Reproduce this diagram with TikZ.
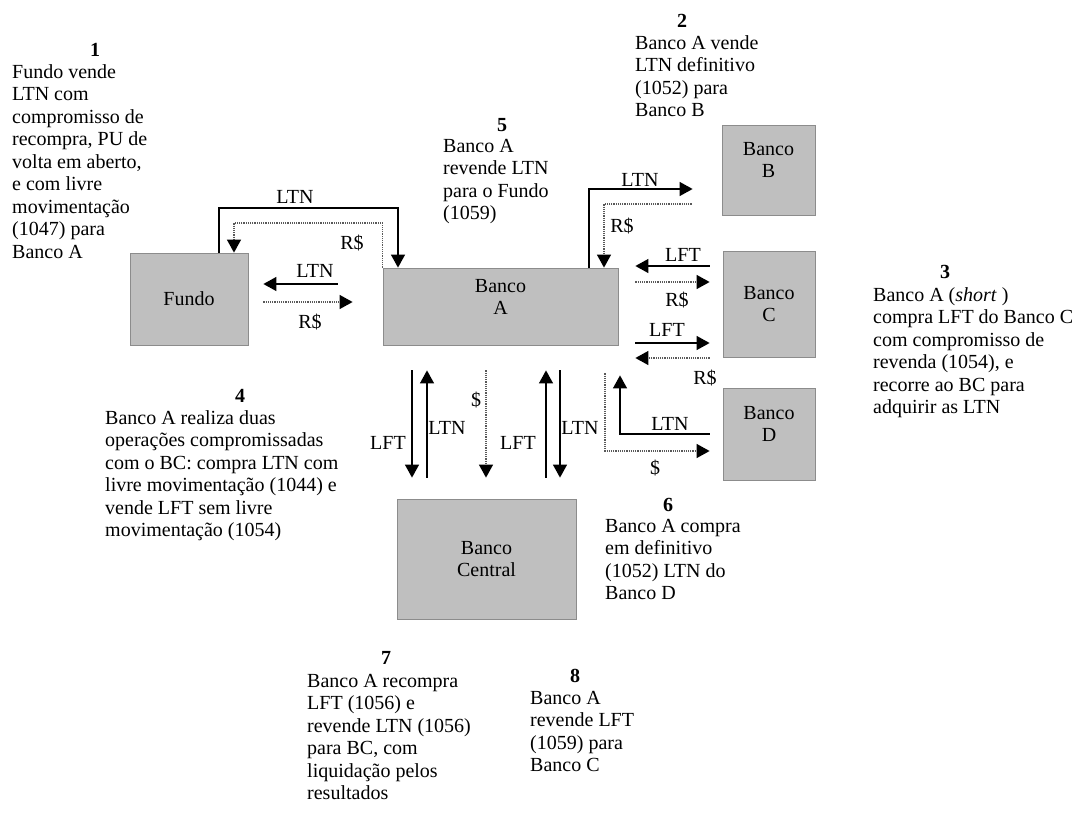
\documentclass[tikz,border=0pt]{standalone}
\usepackage{fontspec}
\setmainfont{Liberation Serif}
\usetikzlibrary{arrows.meta}
\definecolor{bankgray}{RGB}{191,191,191}

\begin{document}
\begin{tikzpicture}[x=1pt,y=-1pt,
    bank/.style={draw=black!45,fill=bankgray,line width=.8pt,align=center,inner sep=0pt,font=\fontsize{20}{22.5}\selectfont},
    flow/.style={line width=1.3pt,-{Triangle[length=13pt,width=14pt]}},
    cash/.style={line width=1.3pt,black!65,dash pattern=on 1.2pt off 1pt,-{Triangle[length=13pt,width=14pt,color=black]}},
    tag/.style={inner sep=0pt,font=\fontsize{20}{22.5}\selectfont},
    stepno/.style={inner sep=0pt,font=\bfseries\fontsize{20}{22.5}\selectfont},
    note/.style={anchor=north west,align=left,inner sep=0pt,font=\fontsize{20}{22.5}\selectfont}]
    \useasboundingbox (0,0) rectangle (1080,814);
    % banks ====================================================
    \node[bank,minimum width=118pt,minimum height=92pt]  (F)  at (189,299)   {Fundo};
    \node[bank,minimum width=235pt,minimum height=77pt,text depth=19pt]  (A)  at (500.5,306.5) {Banco\\A};
    \node[bank,minimum width=93pt,minimum height=90pt,text depth=20pt]   (B)  at (768.5,170) {Banco\\B};
    \node[bank,minimum width=92pt,minimum height=106pt]  (C)  at (769,304)   {Banco\\C};
    \node[bank,minimum width=92pt,minimum height=92pt,text depth=20pt]   (D)  at (769,434)   {Banco\\D};
    \node[bank,minimum width=179pt,minimum height=120pt] (BC) at (486.5,559) {Banco\\Central};
    \coordinate (topL) at (398,208);
    \coordinate (topR) at (234,223);
    % Fundo <-> Banco A ========================================
    \draw[flow] ([xshift=30pt]F.north) |- (topL) -- (topL |- A.north);
    \draw[cash] (A.north west) |- (topR) -- (topR |- F.north);
    \node[tag] (ltn1) at (295,197) {LTN};
    \node[tag] (rs1)  at (352,243) {R\$};
    \draw[flow,shorten <=45pt,shorten >=15pt] ([yshift=22.5pt]A.west) -- ([yshift=15pt]F.east);
    \draw[cash,shorten <=15pt,shorten >=30pt] ([yshift=-3pt]F.east) -- ([yshift=4.5pt]A.west);
    \node[tag] (ltn5) at (315,271) {LTN};
    \node[tag] (rs5)  at (310,322) {R\$};
    % Banco A <-> Banco B =====================================
    \draw[flow,shorten >=29pt] ([xshift=88.5pt]A.north) |- ([yshift=-19pt]B.west);
    \draw[cash,shorten <=30pt] ([yshift=-34pt]B.west) -| ([xshift=103.5pt]A.north);
    \node[tag] (ltn2) at (640,180) {LTN};
    \node[tag] (rs2)  at (622,226) {R\$};
    % Banco A <-> Banco C =====================================
    \draw[flow,shorten <=13pt,shorten >=17pt] ([yshift=38pt]C.west) -- ([yshift=40.5pt]A.east);
    \draw[cash,shorten <=17pt,shorten >=13pt] ([yshift=24.5pt]A.east) -- ([yshift=22pt]C.west);
    \node[tag] (lft3) at (683,255) {LFT};
    \node[tag] (rs3)  at (677,300) {R\$};
    \draw[flow,shorten <=17pt,shorten >=13pt] ([yshift=-36.5pt]A.east) -- ([yshift=-39pt]C.west);
    \draw[cash,shorten <=13pt,shorten >=17pt] ([yshift=-54pt]C.west) -- ([yshift=-51.5pt]A.east);
    \node[tag] (lft8) at (667,330) {LFT};
    \node[tag] (rs8)  at (705,378) {R\$};
    % Banco A <-> Banco D =====================================
    \draw[flow,shorten <=13pt,shorten >=30pt] (D.west) -| ([xshift=119.5pt]A.south);
    \draw[cash,shorten <=28pt,shorten >=13pt] ([xshift=104.5pt]A.south) |- ([yshift=-17pt]D.west);
    \node[tag] (ltn6) at (670,424) {LTN};
    \node[tag] (ds6)  at (655,468) {\$};
    % Banco A <-> Banco Central ===============================
    \draw[flow,shorten <=25pt,shorten >=21pt] ([xshift=-88.5pt]A.south) -- ([xshift=-74.5pt]BC.north);
    \draw[flow,shorten <=21pt,shorten >=25pt] ([xshift=-59.5pt]BC.north) -- ([xshift=-73.5pt]A.south);
    \draw[cash,shorten <=25pt,shorten >=21pt] ([xshift=-14.5pt]A.south) -- ([xshift=-0.5pt]BC.north);
    \draw[flow,shorten <=21pt,shorten >=25pt] ([xshift=59.5pt]BC.north) -- ([xshift=45.5pt]A.south);
    \draw[flow,shorten <=25pt,shorten >=21pt] ([xshift=59.5pt]A.south) -- ([xshift=73.5pt]BC.north);
    \node[tag] (lft4) at (388,443) {LFT};
    \node[tag] (ltn4) at (447,428) {LTN};
    \node[tag] (ds7)  at (476,400) {\$};
    \node[tag] (lft7) at (518,443) {LFT};
    \node[tag] (ltn7) at (580,428) {LTN};
    % steps ====================================================
    \node[stepno] (s1) at (95,50)  {1};
    \node[note]   (n1) at (12,64)  {Fundo vende\\LTN com\\compromisso de\\recompra, PU de\\volta em aberto,\\e com livre\\movimentação\\(1047) para\\Banco A};
    \node[stepno] (s2) at (682,21) {2};
    \node[note]   (n2) at (635,35) {Banco A vende\\LTN definitivo\\(1052) para\\Banco B};
    \node[stepno] (s3) at (945,272) {3};
    \node[note]   (n3) at (873,287) {Banco A (\textit{short} )\\compra LFT do Banco C\\com compromisso de\\revenda (1054), e\\recorre ao BC para\\adquirir as LTN};
    \node[stepno] (s4) at (240,396) {4};
    \node[note]   (n4) at (105,410) {Banco A realiza duas\\operações compromissadas\\com o BC: compra LTN com\\livre movimentação (1044) e\\vende LFT sem livre\\movimentação (1054)};
    \node[stepno] (s5) at (502,125) {5};
    \node[note]   (n5) at (443,139) {Banco A\\revende LTN\\para o Fundo\\(1059)};
    \node[stepno] (s6) at (668,505) {6};
    \node[note]   (n6) at (605,519) {Banco A compra\\em definitivo\\(1052) LTN do\\Banco D};
    \node[stepno] (s7) at (386,658) {7};
    \node[note]   (n7) at (307,674) {Banco A recompra\\LFT (1056) e\\revende LTN (1056)\\para BC, com\\liquidação pelos\\resultados};
    \node[stepno] (s8) at (575,676) {8};
    \node[note]   (n8) at (530,691) {Banco A\\revende LFT\\(1059) para\\Banco C};
\end{tikzpicture}
\end{document}
